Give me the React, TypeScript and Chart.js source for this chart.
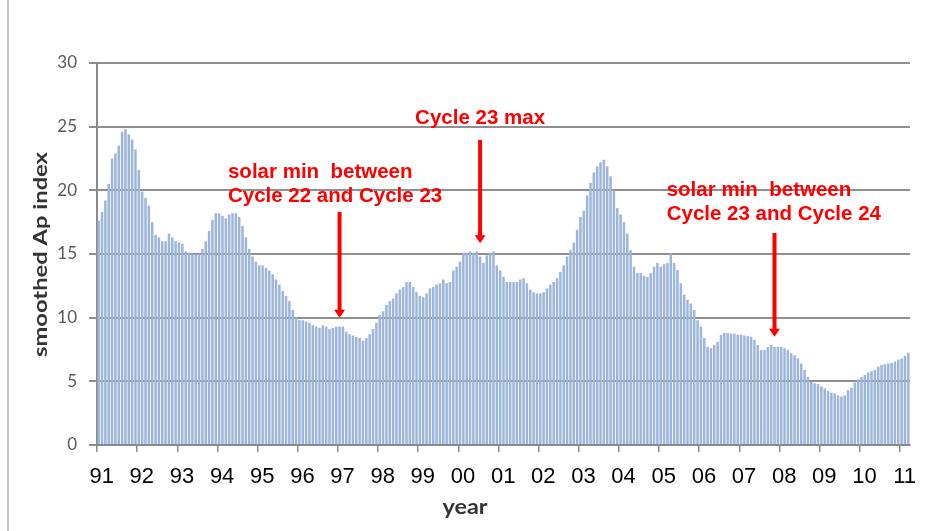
import React, { useEffect, useRef } from "react";
import { Chart, registerables } from "chart.js";

Chart.register(...registerables);

// Monthly smoothed Ap index, Jan 1991 – Mar 2011
const ap1991 = [17.6, 18.3, 19.2, 20.5, 22.5, 22.9, 23.5, 24.6, 24.8, 24.4, 24.0, 23.2];
const ap1992 = [21.6, 19.9, 19.4, 18.8, 17.5, 16.5, 16.3, 16.0, 16.0, 16.6, 16.3, 16.0];
const ap1993 = [15.9, 15.8, 15.2, 15.1, 15.0, 15.0, 15.0, 15.4, 16.0, 16.8, 17.7, 18.2];
const ap1994 = [18.2, 18.0, 17.8, 18.1, 18.2, 18.2, 17.9, 17.2, 16.3, 15.4, 14.8, 14.4];
const ap1995 = [14.1, 14.1, 13.9, 13.7, 13.4, 13.0, 12.6, 12.1, 11.7, 11.3, 10.6, 10.0];
const ap1996 = [9.8, 9.8, 9.7, 9.6, 9.4, 9.3, 9.2, 9.4, 9.3, 9.1, 9.2, 9.3];
const ap1997 = [9.3, 9.3, 8.9, 8.7, 8.6, 8.5, 8.4, 8.2, 8.4, 8.7, 9.1, 9.6];
const ap1998 = [10.2, 10.5, 11.0, 11.3, 11.5, 11.9, 12.2, 12.4, 12.8, 12.8, 12.4, 12.0];
const ap1999 = [11.7, 11.6, 11.9, 12.3, 12.4, 12.6, 12.7, 13.0, 12.7, 12.8, 13.7, 14.0];
const ap2000 = [14.4, 15.1, 15.1, 15.2, 15.1, 15.2, 14.8, 14.3, 14.9, 15.1, 15.2, 14.1];
const ap2001 = [13.7, 13.2, 12.8, 12.8, 12.8, 12.8, 13.0, 13.1, 12.7, 12.2, 12.0, 11.9];
const ap2002 = [11.9, 12.0, 12.3, 12.6, 12.8, 13.1, 13.6, 14.1, 14.8, 15.3, 15.9, 16.9];
const ap2003 = [17.9, 18.4, 19.6, 20.6, 21.4, 21.9, 22.2, 22.4, 21.9, 21.1, 20.0, 18.6];
const ap2004 = [18.1, 17.5, 16.6, 15.3, 14.0, 13.5, 13.5, 13.3, 13.2, 13.5, 14.0, 14.3];
const ap2005 = [14.0, 14.2, 14.3, 15.05, 14.3, 13.75, 12.7, 11.8, 11.4, 11.1, 10.6, 9.8];
const ap2006 = [9.3, 8.4, 7.7, 7.6, 7.85, 8.1, 8.65, 8.8, 8.8, 8.75, 8.75, 8.65];
const ap2007 = [8.65, 8.6, 8.55, 8.5, 8.25, 7.85, 7.45, 7.45, 7.7, 7.85, 7.7, 7.7];
const ap2008 = [7.7, 7.6, 7.45, 7.2, 7.05, 6.8, 6.4, 5.9, 5.35, 4.95, 4.85, 4.8];
const ap2009 = [4.6, 4.45, 4.25, 4.1, 4.05, 3.9, 3.8, 3.9, 4.3, 4.5, 4.9, 5.15];
const ap2010 = [5.35, 5.5, 5.7, 5.8, 5.9, 6.15, 6.3, 6.35, 6.4, 6.45, 6.55, 6.7];
const ap2011 = [6.8, 7.0, 7.25];

const apValues = [
  ...ap1991, ...ap1992, ...ap1993, ...ap1994, ...ap1995, ...ap1996, ...ap1997,
  ...ap1998, ...ap1999, ...ap2000, ...ap2001, ...ap2002, ...ap2003, ...ap2004,
  ...ap2005, ...ap2006, ...ap2007, ...ap2008, ...ap2009, ...ap2010, ...ap2011,
];

const yearLabels = ["91", "92", "93", "94", "95", "96", "97", "98", "99", "00",
  "01", "02", "03", "04", "05", "06", "07", "08", "09", "10", "11"];

const monthLabels = apValues.map((_, i) => `${1991 + Math.floor(i / 12)}-${(i % 12) + 1}`);

const yTicks = [0, 5, 10, 15, 20, 25, 30];

// Annotations: text lines, arrow month index, arrow tip value and arrow top value
const noteLines = [
  ["solar min  between", "Cycle 22 and Cycle 23"],
  ["Cycle 23 max"],
  ["solar min  between", "Cycle 23 and Cycle 24"],
];
const noteIndex = [72, 114, 202];
const noteTipValue = [10, 15.85, 8.5];
const noteTopValue = [18.3, 23.96, 16.65];

const yTitle = "smoothed Ap index";
const xTitle = "year";

const notePlugin = {
  id: "notes",
  afterDraw(chart: any) {
    const { ctx, scales } = chart;
    const xs = scales.x;
    const ys = scales.y;
    const layouts = [
      { align: "left", dx: -111.6, dy: [-40, -16] },
      { align: "center", dx: 0, dy: [-22] },
      { align: "left", dx: -107.8, dy: [-43, -19] },
    ];
    ctx.save();
    for (let k = 0; k < noteLines.length; k++) {
      const x = xs.getPixelForValue(noteIndex[k]);
      const tip = ys.getPixelForValue(noteTipValue[k]);
      const top = ys.getPixelForValue(noteTopValue[k]);
      ctx.strokeStyle = "#ff0000";
      ctx.fillStyle = "#ff0000";
      ctx.lineWidth = 4;
      ctx.beginPath();
      ctx.moveTo(x, top);
      ctx.lineTo(x, tip - 6);
      ctx.stroke();
      ctx.beginPath();
      ctx.moveTo(x - 5.5, tip - 8);
      ctx.lineTo(x + 5.5, tip - 8);
      ctx.lineTo(x, tip);
      ctx.closePath();
      ctx.fill();
      const lay = layouts[k];
      ctx.font = "bold 20.5px 'Liberation Sans', Arial, sans-serif";
      ctx.textAlign = lay.align as CanvasTextAlign;
      ctx.textBaseline = "middle";
      noteLines[k].forEach((line, j) => {
        ctx.fillText(line, x + lay.dx, top + lay.dy[j]);
      });
    }
    ctx.fillStyle = "#333333";
    ctx.font = "bold 19px Lato, 'Noto Sans', sans-serif";
    ctx.textAlign = "center";
    ctx.textBaseline = "middle";
    const w = ctx.measureText(yTitle).width;
    ctx.save();
    ctx.translate(41, (chart.chartArea.top + chart.chartArea.bottom) / 2 + 0.5);
    ctx.rotate(-Math.PI / 2);
    ctx.scale(205 / w, 1);
    ctx.fillText(yTitle, 0, 0);
    ctx.restore();
    ctx.font = "bold 21px Lato, 'Noto Sans', sans-serif";
    const w2 = ctx.measureText(xTitle).width;
    ctx.save();
    ctx.translate(465, 507);
    ctx.scale(45 / w2, 1);
    ctx.fillText(xTitle, 0, 0);
    ctx.restore();
    ctx.restore();
  },
};

export default function App() {
  const ref = useRef<HTMLCanvasElement | null>(null);
  useEffect(() => {
    if (!ref.current) return;
    const chart = new Chart(ref.current, {
      type: "bar",
      data: {
        labels: monthLabels,
        datasets: [
          {
            data: apValues,
            backgroundColor: "#9cb5da",
            borderWidth: 0,
            categoryPercentage: 0.75,
            barPercentage: 1,
          },
        ],
      },
      options: {
        animation: false,
        responsive: true,
        maintainAspectRatio: false,
        layout: { padding: { left: 0, right: 16, top: 63, bottom: 0 } },
        plugins: { legend: { display: false }, tooltip: { enabled: false }, title: { display: false } },
        scales: {
          x: {
            type: "category",
            offset: true,
            grid: {
              offset: true,
              drawOnChartArea: false,
              drawTicks: true,
              tickLength: 7,
              lineWidth: 1.5,
              color: (c: any) => (c.index % 12 === 0 ? "#8a8a8a" : "rgba(0,0,0,0)"),
            },
            border: { color: "#8a8a8a", width: 2 },
            ticks: {
              autoSkip: false,
              maxRotation: 0,
              minRotation: 0,
              padding: 12,
              labelOffset: 3,
              color: "#000",
              font: { family: "'Liberation Sans Narrow', 'Liberation Sans', Arial, sans-serif", size: 22 },
              callback: (_v: any, i: number) => (i % 12 === 0 ? yearLabels[i / 12] : ""),
            },
            afterFit: (s: any) => {
              s.height = 86;
            },
          },
          y: {
            min: 0,
            max: 30,
            z: 1,
            afterBuildTicks: (s: any) => {
              s.ticks = yTicks.map((v) => ({ value: v }));
            },
            ticks: {
              padding: 12,
              color: "#595959",
              font: { family: "Lato, 'Noto Sans', sans-serif", size: 17 },
            },
            grid: { color: "rgba(90,90,90,0.68)", lineWidth: 2, tickLength: 8, drawTicks: true },
            border: { color: "#8a8a8a", width: 2 },
            afterFit: (s: any) => {
              s.width = 97;
            },
          },
        },
      },
      plugins: [notePlugin],
    });
    return () => chart.destroy();
  }, []);
  return (
    <div style={{ position: "fixed", left: 0, top: 0, width: 926, height: 531, background: "#fff" }}>
      <div style={{ position: "absolute", left: 7, top: 0, width: 2, height: 531, background: "#c4c4c4" }} />
      <canvas ref={ref} />
    </div>
  );
}
